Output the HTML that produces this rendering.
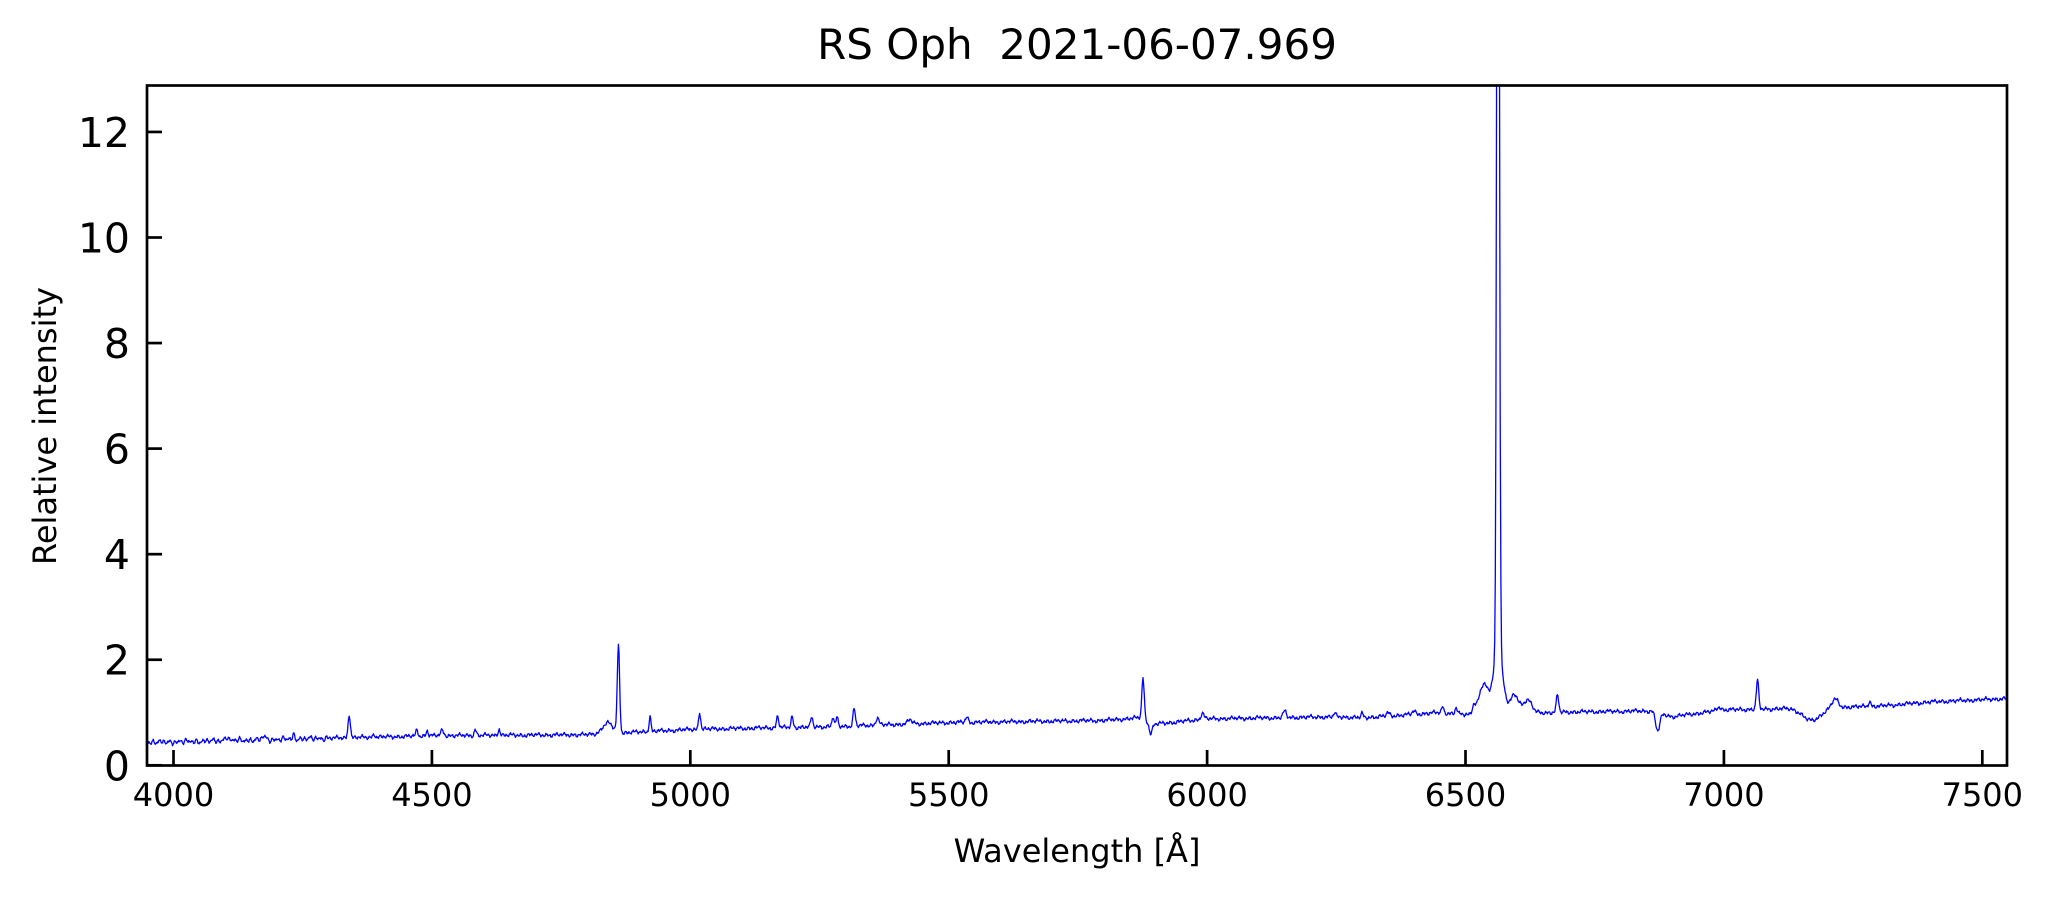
<!DOCTYPE html>
<html><head><meta charset="utf-8"><style>
html,body{margin:0;padding:0;background:#fff;}
svg{display:block;font-family:"DejaVu Sans","Liberation Sans",sans-serif;}
</style></head><body>
<svg id="s" width="2054" height="897" viewBox="0 0 2054 897" xmlns="http://www.w3.org/2000/svg">
<defs><clipPath id="c"><rect x="147" y="85.5" width="1860" height="680"/></clipPath></defs>
<rect width="2054" height="897" fill="#fff"/>
<path id="spec" clip-path="url(#c)" fill="none" stroke="#0000ff" stroke-width="1.3" stroke-linejoin="round" d=""/>
<g id="ticks" stroke="#000" stroke-width="2.7"></g>
<rect x="147" y="85.5" width="1860" height="680" fill="none" stroke="#000" stroke-width="2.7"/>
<g id="labels" fill="#000"></g>
<text x="1077" y="59" font-size="42" text-anchor="middle" style="white-space:pre">RS Oph&#160; 2021-06-07.969</text>
<text x="1077" y="862" font-size="32" text-anchor="middle">Wavelength [Å]</text>
<text transform="translate(56,426) rotate(-90)" font-size="32" text-anchor="middle">Relative intensity</text>
</svg>
<script>
var X=function(l){return 147+(l-3948.7)*0.5168;};
var Y=function(v){return 765.3-v*52.78;};
var ns="http://www.w3.org/2000/svg";
var tk=document.getElementById('ticks'),lb=document.getElementById('labels');
function el(n,a,p,t){var e=document.createElementNS(ns,n);for(var k in a)e.setAttribute(k,a[k]);if(t)e.textContent=t;p.appendChild(e);}
for(var l=4000;l<=7500;l+=500){var x=X(l);el('line',{x1:x,x2:x,y1:765.3,y2:750},tk);el('text',{x:x,y:806,'font-size':32,'text-anchor':'middle'},lb,String(l));}
for(var v=0;v<=12;v+=2){var y=Y(v);el('line',{x1:147,x2:162,y1:y,y2:y},tk);el('text',{x:130,y:y+15,'font-size':41,'text-anchor':'end'},lb,String(v));}
var cont=[[3940,0.43],[4200,0.49],[4500,0.56],[4800,0.58],[5000,0.68],[5300,0.74],[5500,0.81],[5800,0.85],[5870,0.9],[5900,0.78],[6000,0.88],[6250,0.92],[6300,0.9],[6450,1.0],[6500,0.96],[6700,1.01],[6860,1.03],[6900,0.92],[7000,1.05],[7100,1.07],[7300,1.12],[7400,1.2],[7560,1.27]];
function C(l){for(var i=0;i<cont.length-1;i++){var a=cont[i],b=cont[i+1];if(l>=a[0]&&l<=b[0])return a[1]+(b[1]-a[1])*(l-a[0])/(b[0]-a[0]);}return 1;}
var lines=[[4102,0.08,3],[4175,0.07,3],[4233,0.08,2],[4340,0.45,2.2],[4388,0.06,2],[4471,0.12,2],[4491,0.1,2],[4520,0.1,3],[4584,0.12,2],[4630,0.12,2],[4840,0.2,10],[4861,1.65,2.3],[4922,0.3,1.8],[5018,0.33,2],[5169,0.22,2.2],[5197,0.2,2],[5235,0.18,2],[5276,0.18,2],[5284,0.18,1.8],[5317,0.33,2.2],[5362,0.14,3],[5425,0.08,4],[5535,0.1,2.5],[5876,0.78,2.3],[5891,-0.22,3],[5991,0.12,3],[6150,0.12,3],[6247,0.07,2],[6300,0.08,2],[6350,0.06,3],[6400,0.06,3],[6456,0.12,2],[6482,0.12,2],[6516,0.15,3],[6535,0.55,9],[6563,24,2.3],[6563,1.2,9],[6595,0.35,8],[6620,0.25,8],[6678,0.33,2.3],[6872,-0.35,4],[6990,0.07,4],[7065,0.55,2.3],[7170,-0.24,17],[7215,0.16,6],[7282,0.09,2.5]];
var d='';
for(var l=3950;l<=7550;l+=1.2){var v=C(l);for(var i=0;i<lines.length;i++){var q=lines[i],z=(l-q[0])/q[2];if(Math.abs(z)<6)v+=q[1]*Math.exp(-0.5*z*z);}
v+=0.02*Math.sin(l*0.9)+0.016*Math.sin(l*0.37+1)+0.012*Math.sin(l*2.3+2)+0.01*Math.sin(l*0.13)+ (l<4300?0.025*Math.sin(l*0.6):0);
d+=(d?'L':'M')+X(l).toFixed(1)+' '+Y(v).toFixed(1);}
document.getElementById('spec').setAttribute('d',d);
</script>
</body></html>
